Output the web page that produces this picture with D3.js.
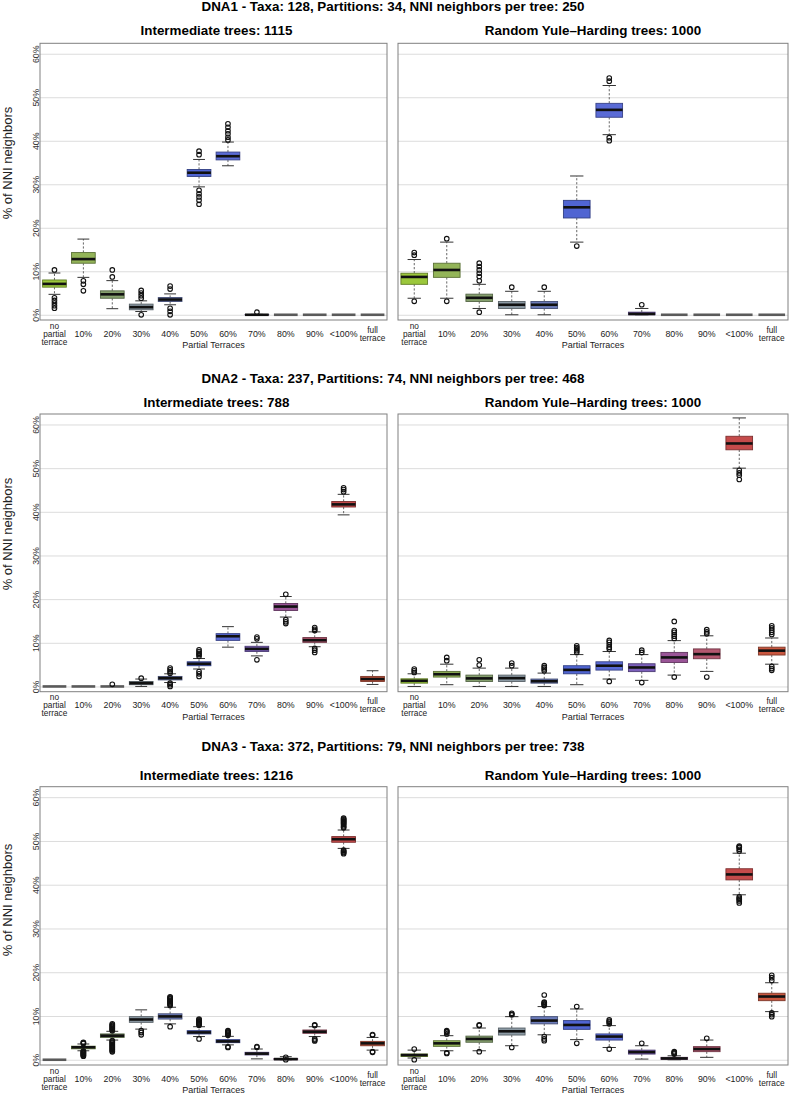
<!DOCTYPE html>
<html><head><meta charset="utf-8">
<script src="https://cdn.jsdelivr.net/npm/d3@7"></script>
<style>
body{margin:0;background:#fff}
svg{display:block;font-family:"Liberation Sans",Arial,Helvetica,sans-serif}
</style>
</head><body><svg id="chart" width="789" height="1094"></svg>
<script>
// ---------- data ----------
const categories = ["no partial terrace","10%","20%","30%","40%","50%","60%","70%","80%","90%","<100%","full terrace"];
const categoryLines = [["no","partial","terrace"],["10%"],["20%"],["30%"],["40%"],["50%"],["60%"],["70%"],["80%"],["90%"],["<100%"],["full","terrace"]];
const yTicks = [0,10,20,30,40,50,60];
const datasetTitles = [
  "DNA1 - Taxa: 128, Partitions: 34, NNI neighbors per tree: 250",
  "DNA2 - Taxa: 237, Partitions: 74, NNI neighbors per tree: 468",
  "DNA3 - Taxa: 372, Partitions: 79, NNI neighbors per tree: 738"
];
const intermediateTitles = ["Intermediate trees: 1115","Intermediate trees: 788","Intermediate trees: 1216"];
const randomTitles = ["Random Yule\u2013Harding trees: 1000","Random Yule\u2013Harding trees: 1000","Random Yule\u2013Harding trees: 1000"];
const boxColors = ["#9bc73c","#93b458","#86a06e","#8c9aa4","#6c7cba","#5065d2","#5a6bd6","#7b5fba","#9a5597","#b3576f","#c54b4b","#c9573f"];

// each entry: [lower whisker, Q1, median, Q3, upper whisker, outliers]
const dna1Intermediate = [
  [4.7, 6.35, 7.1, 8.0, 9.6, [10.3, 3.9, 3.3, 2.7, 2.1, 1.5]],
  [8.6, 11.85, 12.8, 14.3, 17.4, [7.8, 7.0, 5.5]],
  [1.4, 3.8, 4.7, 5.5, 7.85, [10.3, 8.7]],
  [0.75, 1.15, 1.75, 2.45, 3.2, [5.6, 5.0, 4.4, 3.8, 0]],
  [2.3, 3.05, 3.5, 3.96, 4.8, [6.6, 5.9, 1.5, 0.8, 0]],
  [29.4, 31.8, 32.65, 33.4, 35.7, [37.6, 36.8, 28.6, 27.8, 27.1, 26.3, 25.4]],
  [34.25, 35.6, 36.45, 37.4, 39.7, [43.9, 43.1, 42.3, 41.6, 40.8, 40.2]],
  [0, 0, 0, 0.05, 0.1, [0.6]],
  [0, 0, 0, 0, 0, []],
  [0, 0, 0, 0, 0, []],
  [0, 0, 0, 0, 0, []],
  [0, 0, 0, 0, 0, []]
];
const dna1Random = [
  [3.8, 7.0, 8.7, 9.55, 12.7, [14.3, 13.7, 3.1]],
  [3.8, 8.6, 10.3, 11.85, 16.7, [17.5, 3.1]],
  [1.45, 3.06, 3.9, 4.74, 7.0, [11.85, 11.1, 10.3, 9.55, 8.8, 7.8, 0.6]],
  [0, 1.45, 2.3, 3.06, 5.4, [6.35]],
  [0, 1.45, 2.3, 3.06, 5.4, [6.35]],
  [16.7, 22.25, 24.7, 26.3, 31.9, [15.8]],
  [41.4, 45.4, 47.1, 48.6, 52.7, [54.4, 53.7, 40.7, 40.0]],
  [0, 0, 0.2, 0.6, 1.45, [2.3]],
  [0, 0, 0, 0, 0, []],
  [0, 0, 0, 0, 0, []],
  [0, 0, 0, 0, 0, []],
  [0, 0, 0, 0, 0, []]
];
const dna2Intermediate = [
  [0, 0, 0, 0, 0, []],
  [0, 0, 0, 0, 0, []],
  [0, 0, 0, 0, 0, [0.5]],
  [0, 0.4, 0.75, 1.15, 1.7, [1.9]],
  [0.9, 1.5, 1.9, 2.3, 2.9, [4.2, 3.8, 3.4, 3.0, 0.75, 0.4, 0]],
  [4.0, 4.75, 5.2, 5.65, 6.4, [8.4, 8.0, 7.6, 7.3, 6.9, 3.4, 2.9, 2.3]],
  [9.0, 10.55, 11.5, 12.1, 13.7, []],
  [7.0, 8.0, 8.6, 9.2, 10.1, [11.3, 10.9, 6.1]],
  [15.9, 17.4, 18.3, 19.0, 20.6, [21.1, 15.3, 14.8, 14.4]],
  [9.1, 10.1, 10.6, 11.2, 12.5, [13.5, 13.1, 12.8, 8.7, 8.3, 7.8]],
  [39.3, 41.1, 41.7, 42.35, 44.0, [45.5, 45.1, 44.6]],
  [0.46, 1.15, 1.7, 2.3, 3.6, []]
];
const dna2Random = [
  [0, 0.76, 1.3, 1.75, 2.9, [4.0, 3.6, 3.2]],
  [0.4, 2.15, 2.8, 3.45, 5.1, [6.65, 5.9]],
  [0, 1.15, 1.85, 2.6, 4.2, [6.1, 4.9]],
  [0, 1.15, 1.9, 2.6, 4.2, [5.35, 4.75]],
  [0, 0.76, 1.2, 1.7, 3.06, [4.75, 4.35, 4.0, 3.6]],
  [0.4, 2.9, 3.8, 4.75, 7.3, [9.3, 8.9, 8.6, 8.2, 7.8]],
  [1.7, 3.75, 4.75, 5.65, 8.0, [10.55, 10.1, 9.55, 9.0, 8.6, 1.15]],
  [1.4, 3.4, 4.35, 5.2, 7.3, [8.3, 7.8, 0.9]],
  [2.6, 5.5, 6.65, 7.8, 10.5, [14.9, 12.8, 12.4, 11.9, 11.5, 11.0, 2.15]],
  [3.45, 6.35, 7.4, 8.6, 11.6, [13.0, 12.5, 12.1, 2.15]],
  [50.0, 54.2, 55.65, 57.3, 61.5, [49.5, 48.9, 48.4, 47.4]],
  [5.1, 7.2, 8.2, 9.0, 11.1, [13.9, 13.4, 12.9, 12.4, 11.9, 4.6, 4.1, 3.7]]
];
const dna3Intermediate = [
  [0, 0, 0, 0, 0, []],
  [2.05, 2.5, 2.85, 3.1, 3.6, [4.0, 3.85, 3.7, 2.0, 1.85, 1.7, 1.55, 1.4, 1.25, 1.1, 0.95, 0.8]],
  [4.5, 5.1, 5.5, 5.9, 6.5, [8.2, 8.0, 7.8, 7.6, 7.4, 7.2, 7.0, 6.8, 6.65, 4.4, 4.2, 4.0, 3.8, 3.6, 3.4, 3.2, 3.0, 2.8, 2.6, 2.4, 2.2, 2.0, 1.8]],
  [7.0, 8.55, 9.2, 9.85, 11.4, [6.65, 6.2, 5.7]],
  [8.2, 9.3, 9.9, 10.5, 12.0, [14.4, 14.2, 14.0, 13.8, 13.6, 13.4, 13.2, 13.0, 12.8, 12.6, 12.4, 7.55]],
  [5.3, 5.9, 6.25, 6.65, 7.55, [9.3, 9.1, 8.9, 8.7, 8.5, 8.3, 8.1, 7.9, 4.75]],
  [3.4, 3.9, 4.2, 4.6, 5.35, [6.65, 6.45, 6.25, 6.05, 5.85, 5.6, 2.95, 2.8]],
  [0.2, 1.1, 1.4, 1.7, 2.45, [3.0, 2.85]],
  [0, 0, 0.15, 0.3, 0.7, [0.55, 0]],
  [5.3, 6.05, 6.4, 6.8, 7.55, [8.0, 7.85, 4.75, 4.5, 4.3]],
  [48.3, 49.7, 50.4, 51.0, 52.5, [55.2, 55.0, 54.8, 54.6, 54.4, 54.2, 54.0, 53.8, 53.5, 53.2, 53.0, 47.9, 47.7, 47.5, 47.3, 47.1]],
  [2.2, 3.2, 3.75, 4.2, 5.1, [5.75, 5.6, 1.85, 1.7]]
];
const dna3Random = [
  [0.4, 0.76, 1.07, 1.3, 2.2, [2.45, 0]],
  [2.05, 3.06, 3.75, 4.35, 5.5, [6.65, 6.45, 6.3, 5.9, 1.6, 1.45]],
  [2.05, 4.0, 4.75, 5.4, 7.25, [7.95, 7.8, 1.85]],
  [3.2, 5.65, 6.5, 7.25, 9.85, [10.6, 10.4, 10.25, 2.8]],
  [5.7, 8.2, 8.95, 9.85, 12.15, [14.8, 13.15, 13.0, 12.8, 12.6, 12.4, 5.3, 4.75, 4.35]],
  [4.6, 6.95, 7.95, 8.95, 11.6, [12.15, 3.75]],
  [2.8, 4.5, 5.3, 5.9, 7.8, [9.1, 8.8, 8.55, 8.2, 2.45]],
  [0.15, 1.3, 1.75, 2.2, 3.2, [3.75]],
  [0, 0.1, 0.3, 0.55, 0.9, [1.85, 1.65, 1.5, 1.3]],
  [0.55, 1.85, 2.45, 3.0, 4.5, [4.9]],
  [37.7, 41.1, 42.35, 43.65, 47.2, [48.85, 48.65, 48.5, 48.1, 47.7, 37.2, 36.9, 36.6, 36.3, 35.85]],
  [11.0, 13.5, 14.45, 15.2, 17.6, [19.3, 18.75, 18.1, 10.7, 10.3, 9.85]]
];

// ---------- layout ----------
const svg = d3.select("#chart");
const rows = [
  {top: 43.3, bottom: 320, title: 10.5, sub: 35, ylab: 163, left: dna1Intermediate, right: dna1Random},
  {top: 414, bottom: 691.7, title: 382.5, sub: 406.5, ylab: 534, left: dna2Intermediate, right: dna2Random},
  {top: 786.7, bottom: 1065, title: 750.5, sub: 780, ylab: 900, left: dna3Intermediate, right: dna3Random}
];
const cols = [{x0: 40, x1: 387}, {x0: 398, x1: 788}];
const fontTitle = 13.4, fontTick = 8.8;

svg.append("rect").attr("width", 789).attr("height", 1094).attr("fill", "#fff");

rows.forEach((row, ri) => {
  svg.append("text").attr("x", 393).attr("y", row.title)
    .attr("text-anchor", "middle").attr("font-weight", "bold").attr("font-size", fontTitle)
    .attr("fill", "#000").text(datasetTitles[ri]);

  svg.append("text")
    .attr("transform", `translate(12,${row.ylab}) rotate(-90)`)
    .attr("text-anchor", "middle").attr("font-size", 13).attr("fill", "#222")
    .text("% of NNI neighbors");

  const y = d3.scaleLinear().domain([-1.2, 62.4]).range([row.bottom, row.top]);

  [row.left, row.right].forEach((data, ci) => {
    const c = cols[ci];
    const x = d3.scaleBand().domain(categories).range([c.x0, c.x1]).paddingInner(0.18).paddingOuter(0.09);
    const g = svg.append("g");
    const subtitle = ci === 0 ? intermediateTitles[ri] : randomTitles[ri];
    g.append("text").attr("x", (c.x0 + c.x1) / 2 + (ci === 0 ? 3 : 0)).attr("y", row.sub)
      .attr("text-anchor", "middle").attr("font-weight", "bold").attr("font-size", fontTitle)
      .attr("fill", "#000").text(subtitle);

    // gridlines
    const grid = g.append("g").attr("transform", `translate(${c.x0},0)`)
      .call(d3.axisLeft(y).tickValues(yTicks).tickSize(-(c.x1 - c.x0)).tickFormat(""));
    grid.select(".domain").remove();
    grid.selectAll("line").attr("stroke", "#dcdcdc").attr("stroke-width", 1);

    // y tick labels (left panel only)
    if (ci === 0) {
      const ya = g.append("g").attr("transform", `translate(${c.x0},0)`)
        .call(d3.axisLeft(y).tickValues(yTicks).tickSize(0).tickFormat(d => d + "%"));
      ya.select(".domain").remove();
      ya.selectAll("text").attr("transform", "rotate(-90)")
        .attr("x", 0).attr("y", -1.5).attr("dy", null)
        .attr("text-anchor", "middle").attr("font-size", fontTick).attr("fill", "#333")
        .attr("font-family", null);
    }

    // boxes
    const bw = x.bandwidth();
    data.forEach((d, i) => {
      const [lo, q1, med, q3, hi, outs] = d;
      const cx = x(categories[i]) + bw / 2;
      const col = boxColors[i];
      const flat = q3 - q1 < 0.01 && hi - lo < 0.01;
      const bg = g.append("g");
      // whiskers
      bg.append("line").attr("x1", cx).attr("x2", cx).attr("y1", y(q3)).attr("y2", y(hi))
        .attr("stroke", "#555").attr("stroke-width", 0.9).attr("stroke-dasharray", "2.2,1.8");
      bg.append("line").attr("x1", cx).attr("x2", cx).attr("y1", y(q1)).attr("y2", y(lo))
        .attr("stroke", "#555").attr("stroke-width", 0.9).attr("stroke-dasharray", "2.2,1.8");
      [lo, hi].forEach(v => {
        bg.append("line").attr("x1", cx - bw / 4).attr("x2", cx + bw / 4).attr("y1", y(v)).attr("y2", y(v))
          .attr("stroke", "#333").attr("stroke-width", 1);
      });
      // box
      bg.append("rect").attr("x", cx - bw / 2).attr("width", bw)
        .attr("y", y(q3)).attr("height", Math.max(0, y(q1) - y(q3)))
        .attr("fill", col).attr("stroke", d3.color(col).darker(1.3)).attr("stroke-width", 0.9);
      // median
      bg.append("line").attr("x1", cx - bw / 2).attr("x2", cx + bw / 2).attr("y1", y(med)).attr("y2", y(med))
        .attr("stroke", flat ? "#5a5a5a" : "#111").attr("stroke-width", 2.6);
      // outliers
      bg.selectAll("circle.o").data(outs).enter().append("circle")
        .attr("cx", cx).attr("cy", v => y(v)).attr("r", 2.3)
        .attr("fill", "none").attr("stroke", "#111").attr("stroke-width", 1.1);
    });

    // x axis labels
    const xa = g.append("g").attr("transform", `translate(0,${row.bottom})`)
      .call(d3.axisBottom(x).tickSize(0));
    xa.select(".domain").remove();
    xa.selectAll(".tick text").each(function(cat) {
      const lines = categoryLines[categories.indexOf(cat)];
      const multi = lines.length > 1;
      const t = d3.select(this).text(null).attr("y", null).attr("dy", null)
        .attr("font-size", multi ? 8.3 : fontTick).attr("fill", "#222").attr("font-family", null);
      lines.forEach((ln, li) => {
        t.append("tspan").attr("x", 0).attr("y", 16.5 + (li - (lines.length - 1) / 2) * 8).text(ln);
      });
    });
    g.append("text").attr("x", (c.x0 + c.x1) / 2).attr("y", row.bottom + 28)
      .attr("text-anchor", "middle").attr("font-size", 9).attr("fill", "#222").text("Partial Terraces");

    // frame
    g.append("rect").attr("x", c.x0).attr("y", row.top).attr("width", c.x1 - c.x0).attr("height", row.bottom - row.top)
      .attr("fill", "none").attr("stroke", "#808080").attr("stroke-width", 1);
  });
});
</script>
</body></html>
